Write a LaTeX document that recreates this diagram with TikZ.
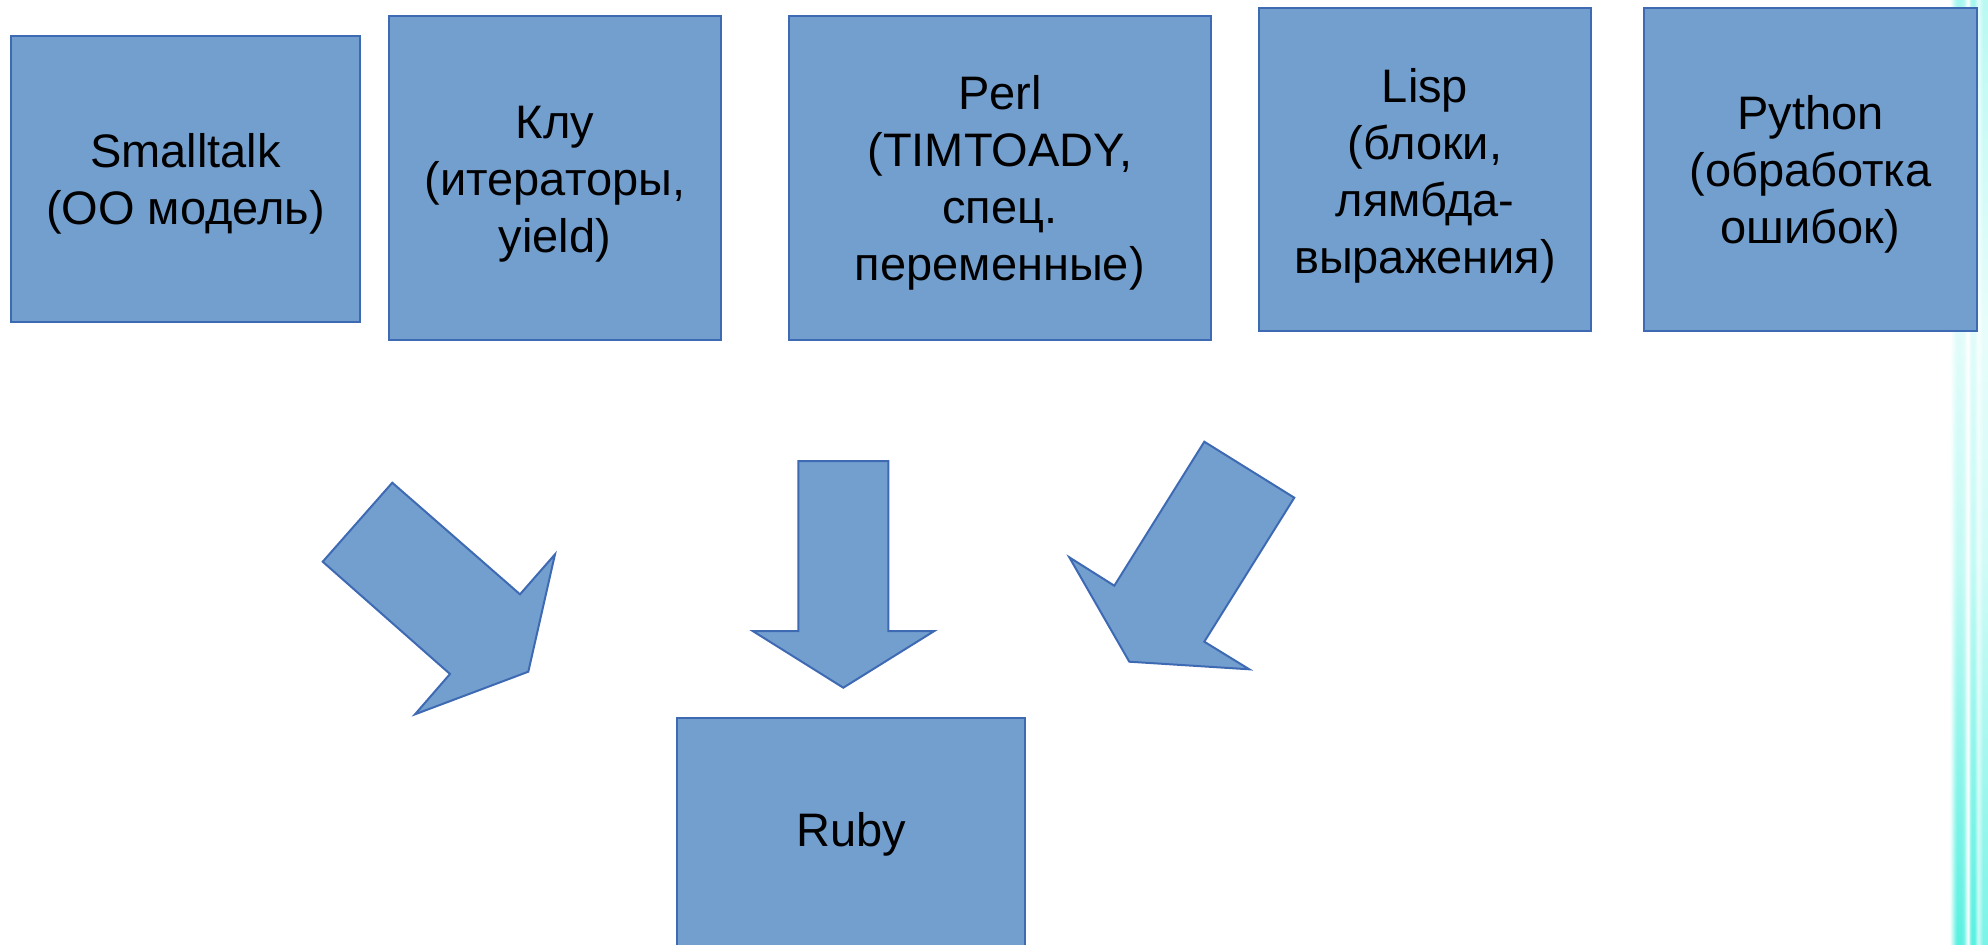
\documentclass[tikz,border=0pt]{standalone}
\usepackage{fontspec}
\setmainfont{Liberation Sans}
\definecolor{boxfill}{RGB}{115,159,207}
\definecolor{boxline}{RGB}{62,106,180}
\definecolor{glow}{RGB}{60,238,220}
\newcommand{\boxtext}[2][3pt]{\raisebox{-#1}[\height][\depth]{\begin{tabular}{@{}c@{}}#2\end{tabular}}}
\tikzset{
  langbox/.style={draw=boxline, fill=boxfill, line width=1pt, inner sep=0pt,
    font=\fontsize{23.5}{28.5}\selectfont, text=black},
  blockarrow/.style={draw=boxline, fill=boxfill, line width=1pt, line join=miter}
}
\begin{document}
\begin{tikzpicture}[x=0.5pt, y=-0.5pt]
\useasboundingbox (0,0) rectangle (1988,944);
% right-edge glow
\begin{scope}
\clip (0,0) rectangle (1988,944);
\foreach \x/\s in {1950/0.1,1951/0.2,1952/0.35,1953/0.5,1954/0.65,1955/0.8,1956/0.9,1957/1,1958/1,1959/1,1960/1,1961/1,1962/0.95,1963/0.9,1964/0.8,1965/0.6,1966/0.4,1967/0.2,1968/0.1,1969/0.3,1970/0.7,1971/0.9,1972/1,1973/1,1974/1,1975/0.9,1976/0.7,1977/0.5,1978/0.4,1979/0.4,1980/0.5,1981/0.6,1982/0.7,1983/0.8,1984/0.8,1985/0.8,1986/0.8,1987/0.8}{
  \pgfmathtruncatemacro\ga{45*\s}
  \pgfmathtruncatemacro\gb{15*\s}
  \pgfmathtruncatemacro\gc{30*\s}
  \pgfmathtruncatemacro\gd{85*\s}
  \shade[top color=glow!\ga, bottom color=glow!\gb] (\x,0) rectangle (\x+1.1,330);
  \shade[top color=glow!\gb, bottom color=glow!\gc] (\x,330) rectangle (\x+1.1,560);
  \shade[top color=glow!\gc, bottom color=glow!\gd] (\x,560) rectangle (\x+1.1,944);
}
\end{scope}
% boxes
\node[langbox, minimum width=174.5pt, minimum height=143pt] (smalltalk) at (185.5,179) {\boxtext{Smalltalk\\(ОО модель)}};
\node[langbox, minimum width=166pt, minimum height=162pt] (clu) at (555,178) {\boxtext{Клу\\(итераторы,\\yield)}};
\node[langbox, minimum width=211pt, minimum height=162pt] (perl) at (999.8,178) {\boxtext{Perl\\(TIMTOADY,\\спец.\\переменные)}};
\node[langbox, minimum width=166pt, minimum height=161.7pt] (lisp) at (1425,169.3) {\boxtext[3.8pt]{Lisp\\(блоки,\\лямбда-\\выражения)}};
\node[langbox, minimum width=166.5pt, minimum height=161.5pt] (python) at (1810.5,169.5) {\boxtext{Python\\(обработка\\ошибок)}};
\node[langbox, minimum width=174pt, minimum height=114pt] (ruby) at (851,832) {\boxtext[1.3pt]{Ruby}};
% block arrows
\draw[blockarrow] (322.7,561.7) -- (392.3,482.7) -- (520,594.3) -- (555,554.3) -- (528.3,671.7) -- (415,714.3) -- (450,674) -- cycle;
\draw[blockarrow] (798.3,461) -- (888.3,461) -- (888.3,631) -- (934.3,631) -- (843.3,687.7) -- (752.7,631) -- (798.3,631) -- cycle;
\draw[blockarrow] (1204.3,441.7) -- (1294.3,497.7) -- (1204.3,641.7) -- (1249.3,669.3) -- (1129.3,661.7) -- (1069.3,557.3) -- (1114.3,585.7) -- cycle;
\end{tikzpicture}
\end{document}
